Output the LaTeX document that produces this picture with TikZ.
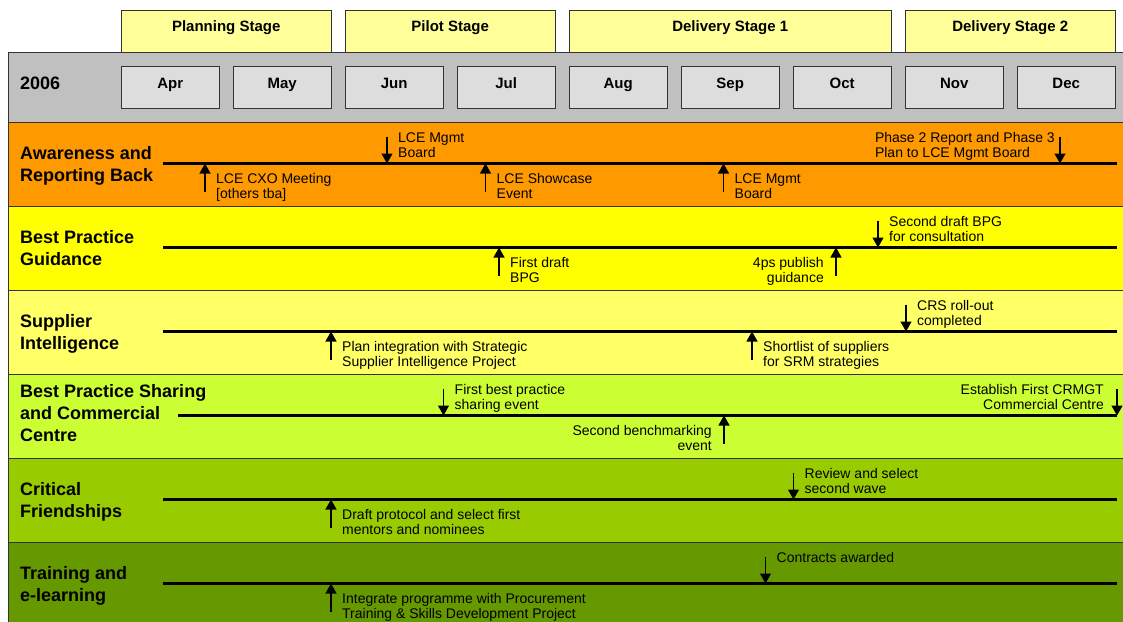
\documentclass[tikz,border=0pt]{standalone}
\usepackage{fontspec}
\setmainfont{Liberation Sans}
\usetikzlibrary{arrows.meta}
\definecolor{gband}{HTML}{C0C0C0}
\definecolor{mbox}{HTML}{DDDDDD}
\definecolor{sbox}{HTML}{FFFF99}
\definecolor{rowA}{HTML}{FF9900}
\definecolor{rowB}{HTML}{FFFF00}
\definecolor{rowC}{HTML}{FFFF66}
\definecolor{rowD}{HTML}{CCFF33}
\definecolor{rowE}{HTML}{99CC00}
\definecolor{rowF}{HTML}{669900}
\tikzset{
  stg/.style={draw=black!80, fill=sbox, anchor=north west, minimum height=42pt, inner sep=0pt,
    text height=11pt, text depth=11pt, font=\bfseries\fontsize{15pt}{18pt}\selectfont},
  mon/.style={draw=black!80, fill=mbox, anchor=north west, minimum width=98pt, minimum height=42pt,
    inner sep=0pt, text height=12pt, text depth=10pt, font=\bfseries\fontsize{15pt}{18pt}\selectfont},
  lbl/.style={anchor=north west, align=left, inner sep=0pt, font=\bfseries\fontsize{18pt}{22pt}\selectfont},
  ev/.style={inner sep=0pt, font=\fontsize{14pt}{14.8pt}\selectfont},
  tl/.style={line width=3pt},
  evar/.style={line width=1.2pt, -{Triangle[width=11pt,length=10pt]}}
}
\newcommand{\evt}[7]{\coordinate (#1s) at (#2,#3+#4); \coordinate (#1e) at (#2,#3);
  \draw[evar] (#1s) -- (#1e); \node[ev,#5] (#1) at (#2+#6) {#7};}
\newcommand{\eu}[4]{\evt{#1}{#2}{#3}{28}{anchor=north west,align=left}{11,#3+10}{#4}}
\newcommand{\ed}[4]{\evt{#1}{#2}{#3}{-27}{anchor=north west,align=left}{11,#3-31}{#4}}
\newcommand{\eul}[4]{\evt{#1}{#2}{#3}{28}{anchor=north east,align=right}{-12,#3+10}{#4}}
\newcommand{\edl}[4]{\evt{#1}{#2}{#3}{-27}{anchor=north east,align=right}{-13,#3-31}{#4}}

\begin{document}
\begin{tikzpicture}[x=1pt,y=-1pt]
  \useasboundingbox (0,0) rectangle (1123,621);
  \node[stg, minimum width=210pt] (plan) at (121,10) {Planning Stage};
  \node[stg, minimum width=210pt] (pilot) at (345,10) {Pilot Stage};
  \node[stg, minimum width=322pt] (del1) at (569,10) {Delivery Stage 1};
  \node[stg, minimum width=210pt] (del2) at (905,10) {Delivery Stage 2};
  \draw[fill=gband, draw=black!80] (8,52) rectangle (1130,122);
  \node[anchor=base west, inner sep=0pt, font=\bfseries\fontsize{18pt}{22pt}\selectfont] (yr) at (20,89) {2006};
  \foreach \m [count=\i from 0] in {Apr,May,Jun,Jul,Aug,Sep,Oct,Nov,Dec}
    \node[mon] (\m) at (121+112*\i,66) {\m};
  \foreach \c [count=\i from 0] in {rowA,rowB,rowC,rowD,rowE,rowF}
    \draw[fill=\c, draw=black!80, line width=0.8pt] (8,122+84*\i) rectangle (1130,206+84*\i);
  \foreach \s/\y in {163/163.5,163/247.5,163/331.5,178/415.5,163/499.5,163/583.5}
    \draw[tl] (\s,\y) -- (1117,\y);

  \node[lbl] (rA) at (20,146) {Awareness and\\Reporting Back};
  \node[lbl] (rB) at (20,230) {Best Practice\\Guidance};
  \node[lbl] (rC) at (20,314) {Supplier\\Intelligence};
  \node[lbl] (rD) at (20,384.5) {Best Practice Sharing\\and Commercial\\Centre};
  \node[lbl] (rE) at (20,482) {Critical\\Friendships};
  \node[lbl] (rF) at (20,566) {Training and\\e-learning};

  \ed{aA}{387}{163.5}{LCE Mgmt\\Board}
  \evt{aB}{1060}{163.5}{-27}{anchor=north east,align=left}{-5,163.5-31}{Phase 2 Report and Phase 3\\Plan to LCE Mgmt Board}
  \eu{aC}{205}{163.5}{LCE CXO Meeting\\{[others tba]}}
  \eu{aD}{485.5}{163.5}{LCE Showcase\\Event}
  \eu{aE}{723.5}{163.5}{LCE Mgmt\\Board}

  \ed{bA}{878}{247.5}{Second draft BPG\\for consultation}
  \eu{bB}{499}{247.5}{First draft\\BPG}
  \eul{bC}{836}{247.5}{4ps publish\\guidance}

  \ed{cA}{906}{331.5}{CRS roll-out\\completed}
  \eu{cB}{331}{331.5}{Plan integration with Strategic\\Supplier Intelligence Project}
  \eu{cC}{752}{331.5}{Shortlist of suppliers\\for SRM strategies}

  \ed{dA}{443.5}{415.5}{First best practice\\sharing event}
  \edl{dB}{1117}{415.5}{Establish First CRMGT\\Commercial Centre}
  \eul{dC}{724}{415.5}{Second benchmarking\\event}

  \ed{eA}{793.5}{499.5}{Review and select\\second wave}
  \eu{eB}{331}{499.5}{Draft protocol and select first\\mentors and nominees}

  \ed{fA}{765.5}{583.5}{Contracts awarded}
  \eu{fB}{331}{583.5}{Integrate programme with Procurement\\Training \& Skills Development Project}
\end{tikzpicture}
\end{document}
